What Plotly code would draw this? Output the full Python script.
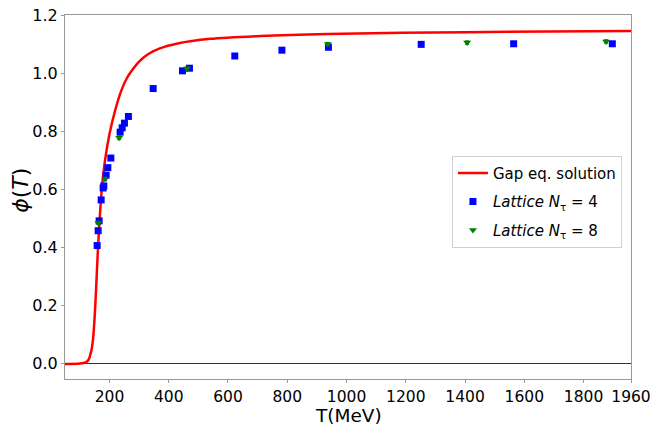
import plotly.graph_objects as go

# Gap equation solution
gap_T = [50, 100, 120, 130, 135, 140, 145, 150, 155, 160, 165, 170, 176, 185, 200, 220, 240, 260, 280, 300, 330, 370, 430, 540, 710, 935, 1400, 1960]
gap_phi = [0.0, 0.001, 0.005, 0.015, 0.03, 0.05, 0.09, 0.16, 0.26, 0.37, 0.465, 0.545, 0.62, 0.70, 0.79, 0.875, 0.94, 0.985, 1.015, 1.04, 1.065, 1.085, 1.102, 1.118, 1.128, 1.135, 1.141, 1.145]

# Lattice N_tau = 4
lat4_T = [158.5, 161.9, 165.2, 172, 178.7, 181, 188.9, 194.6, 204.7, 236, 242.9, 250.6, 264, 347.5, 446.4, 470, 623, 782, 939, 1252, 1564, 1897]
lat4_phi = [0.407, 0.458, 0.492, 0.564, 0.605, 0.612, 0.649, 0.675, 0.708, 0.797, 0.812, 0.828, 0.851, 0.947, 1.008, 1.017, 1.059, 1.079, 1.089, 1.099, 1.101, 1.101]
lat4_err = [0.005] * len(lat4_T)

# Lattice N_tau = 8
lat8_T = [162.9, 185.5, 232.7, 462, 937, 1407, 1876]
lat8_phi = [0.485, 0.636, 0.778, 1.016, 1.100, 1.105, 1.109]
lat8_err = [0.006] * len(lat8_T)

x_tickvals = [200, 400, 600, 800, 1000, 1200, 1400, 1600, 1800, 1960]
y_tickvals = [0.0, 0.2, 0.4, 0.6, 0.8, 1.0, 1.2]

FONT = "DejaVu Sans"

fig = go.Figure()
fig.add_trace(go.Scatter(
    x=gap_T, y=gap_phi, mode="lines", name="Gap eq. solution",
    line=dict(color="red", width=2.5, shape="spline", smoothing=0.8),
    legendgroup="a",
))
fig.add_trace(go.Scatter(
    x=lat4_T, y=lat4_phi, mode="markers", name="<i>Lattice N</i><sub>τ</sub> = 4",
    marker=dict(symbol="square", color="blue", size=7),
    error_y=dict(type="data", array=lat4_err, color="blue", thickness=1, width=2),
    legendgroup="b",
))
fig.add_trace(go.Scatter(
    x=lat8_T, y=lat8_phi, mode="markers", name="<i>Lattice N</i><sub>τ</sub> = 8",
    marker=dict(symbol="triangle-down", color="green", size=7),
    error_y=dict(type="data", array=lat8_err, color="green", thickness=1, width=2),
    legendgroup="c",
))

fig.update_layout(
    width=654, height=427,
    margin=dict(l=65, r=23, t=15, b=48),
    paper_bgcolor="white", plot_bgcolor="white",
    font=dict(family=FONT, color="black", size=16),
    showlegend=True,
    legend=dict(
        x=0.984, y=0.613, xanchor="right", yanchor="top",
        bordercolor="#d0d0d0", borderwidth=1, bgcolor="white",
        font=dict(family=FONT, size=15),
        traceorder="grouped", tracegroupgap=6,
    ),
    xaxis=dict(
        range=[50, 1960], tickmode="array", tickvals=x_tickvals,
        ticktext=[str(v) for v in x_tickvals], automargin=False,
        showgrid=False, zeroline=False,
        showline=True, mirror=True, linecolor="#999999", linewidth=1,
        ticks="outside", ticklen=3, tickcolor="#999999",
        tickfont=dict(size=15.5),
    ),
    yaxis=dict(
        range=[-0.052, 1.2], tickmode="array", tickvals=y_tickvals,
        ticktext=["%.1f" % v for v in y_tickvals], automargin=False,
        showgrid=False, zeroline=True, zerolinecolor="#333333", zerolinewidth=1.3,
        showline=True, mirror=True, linecolor="#999999", linewidth=1,
        ticks="outside", ticklen=3, tickcolor="#999999",
        tickfont=dict(size=16),
    ),
    annotations=[
        dict(text="T(MeV)", xref="paper", yref="paper", x=0.5, y=-0.1319,
             xanchor="center", yanchor="bottom", showarrow=False,
             font=dict(size=18.5, family=FONT), borderpad=0),
        dict(text="<i>ϕ</i>(<i>T</i>)", xref="paper", yref="paper", x=-0.08, y=0.519,
             xanchor="center", yanchor="middle", showarrow=False, textangle=-90,
             font=dict(size=22, family=FONT)),
    ],
)

fig.write_html("out.html")
